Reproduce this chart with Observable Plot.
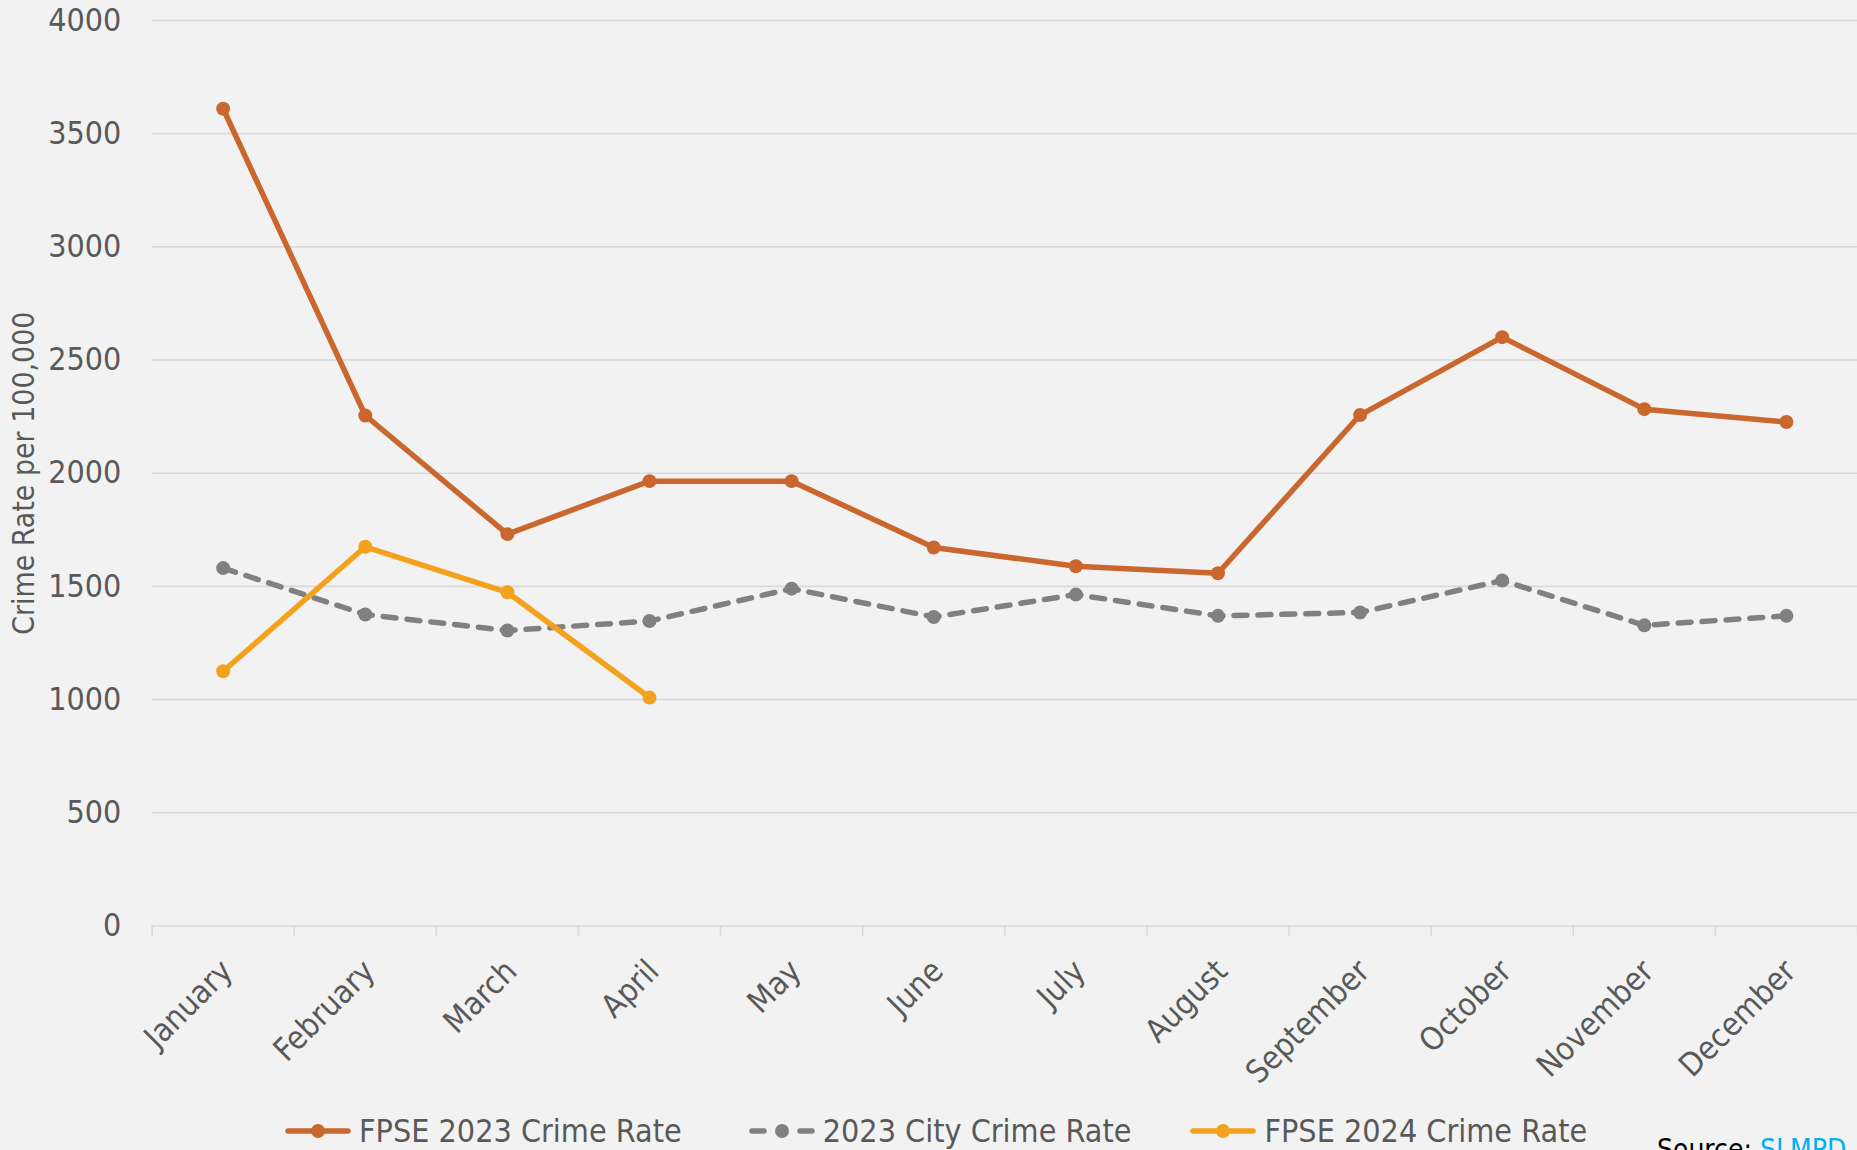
<!DOCTYPE html>
<html>
<head>
<meta charset="utf-8">
<script src="https://cdn.jsdelivr.net/npm/d3@7"></script>
<script src="https://cdn.jsdelivr.net/npm/@observablehq/plot@0.6"></script>
<style>
  html, body { margin: 0; padding: 0; background: #F2F2F2; overflow: hidden; width: 1857px; height: 1150px; }
  body { position: relative; font-family: "DejaVu Sans Condensed", "DejaVu Sans", sans-serif; font-stretch: condensed; }
  #chart { position: absolute; left: 0; top: 0; }
  .legend { position: absolute; top: 1112px; left: 282px; display: flex; align-items: center; font-size: 32px; color: #595959; white-space: nowrap; }
  .legend .item { display: flex; align-items: center; margin-right: 64px; }
  .legend .item:nth-child(2) { margin-right: 56px; }
  .legend svg { margin-right: 5px; }
  .source { position: absolute; left: 1657px; top: 1133px; font-size: 28px; color: #000; white-space: nowrap; }
  .source span { color: #00B0F0; }
</style>
</head>
<body>
<div id="chart"></div>
<div class="legend" id="legend"></div>
<div class="source">Source: <span>SLMPD</span></div>
<script>
const months = ["January","February","March","April","May","June","July","August","September","October","November","December"];
const fpse2023 = [3610, 2255, 1731, 1965, 1965, 1672, 1589, 1558, 2257, 2601, 2283, 2226];
const city2023 = [1581, 1376, 1305, 1347, 1490, 1365, 1464, 1370, 1385, 1526, 1328, 1370];
const fpse2024 = [1125, 1675, 1474, 1009];
const yTicks = [0, 500, 1000, 1500, 2000, 2500, 3000, 3500, 4000];
const seriesNames = ["FPSE 2023 Crime Rate", "2023 City Crime Rate", "FPSE 2024 Crime Rate"];
const seriesColors = ["#C9672F", "#808080", "#F4A21E"];

const toRows = (vals, s) => vals.map((v, i) => ({x: i + 0.5, month: months[i], value: v, series: s}));
const rows2023 = toRows(fpse2023, seriesNames[0]);
const rowsCity = toRows(city2023, seriesNames[1]);
const rows2024 = toRows(fpse2024, seriesNames[2]);
const centers = months.map((m, i) => i + 0.5);
const bounds = d3.range(months.length + 1);

const chart = Plot.plot({
  width: 1862,
  height: 1100,
  marginLeft: 152,
  marginRight: 0,
  marginTop: 20,
  marginBottom: 172,
  style: {background: "#F2F2F2", fontFamily: "'DejaVu Sans Condensed', 'DejaVu Sans', sans-serif"},
  x: {type: "linear", domain: [0, months.length], axis: null},
  y: {domain: [0, 4000], axis: null},
  marks: [
    Plot.gridY(yTicks, {stroke: "#D9D9D9", strokeOpacity: 1, strokeWidth: 1.6}),
    Plot.axisX(bounds, {tickSize: 10, tickFormat: () => "", stroke: "#D9D9D9", strokeWidth: 1.6, label: null}),
    Plot.axisX(centers, {tickSize: 0, tickPadding: 40, tickRotate: -45, fontSize: 32, fill: "#595959", dx: 4,
      tickFormat: d => months[Math.round(d - 0.5)], label: null}),
    Plot.axisY(yTicks, {tickSize: 0, tickPadding: 31, fontSize: 32, fill: "#595959", label: null, tickFormat: d => String(d)}),
    Plot.axisY([], {label: "Crime Rate per 100,000", labelAnchor: "center", labelArrow: "none",
      labelOffset: 140, fontSize: 30, fill: "#595959", tickSize: 0}),
    Plot.line(rows2023, {x: "x", y: "value", stroke: seriesColors[0], strokeWidth: 5.5}),
    Plot.dot(rows2023, {x: "x", y: "value", fill: seriesColors[0], r: 7}),
    Plot.line(rowsCity, {x: "x", y: "value", stroke: seriesColors[1], strokeWidth: 5.5, strokeDasharray: "13,11", strokeLinecap: "round"}),
    Plot.dot(rowsCity, {x: "x", y: "value", fill: seriesColors[1], r: 7}),
    Plot.line(rows2024, {x: "x", y: "value", stroke: seriesColors[2], strokeWidth: 5.5}),
    Plot.dot(rows2024, {x: "x", y: "value", fill: seriesColors[2], r: 7})
  ]
});
document.getElementById("chart").append(chart);

// Legend
const legend = d3.select("#legend");
seriesNames.forEach((name, i) => {
  const item = legend.append("div").attr("class", "item");
  const sw = item.append("svg").attr("width", 72).attr("height", 20);
  sw.append("line").attr("x1", 6).attr("x2", 66).attr("y1", 10).attr("y2", 10)
    .attr("stroke", seriesColors[i]).attr("stroke-width", 5.5).attr("stroke-linecap", "round")
    .attr("stroke-dasharray", i === 1 ? "12,36" : null);
  sw.append("circle").attr("cx", 36).attr("cy", 10).attr("r", 7).attr("fill", seriesColors[i]);
  item.append("span").text(name);
});
</script>
</body>
</html>
